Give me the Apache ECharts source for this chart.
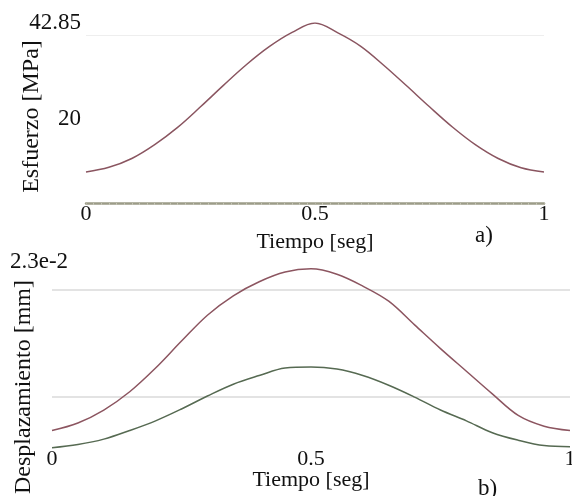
<!DOCTYPE html>
<html><head><meta charset="utf-8">
<script src="https://cdn.jsdelivr.net/npm/echarts@6/dist/echarts.min.js"></script>
<style>html,body{margin:0;padding:0;background:#fff}#c{width:572px;height:496px}</style>
</head><body><div id="c"></div>
<script>
// Time samples [seg]
const tiempo = [0,0.05,0.1,0.15,0.2,0.25,0.3,0.35,0.4,0.45,0.5,0.55,0.6,0.65,0.7,0.75,0.8,0.85,0.9,0.95,1];
// a) Esfuerzo [MPa]
const esfuerzo = [7.4,8.5,10.6,13.9,18.0,22.9,28.0,32.9,37.2,40.6,42.85,40.5,37.3,32.8,27.9,22.9,18.1,13.9,10.6,8.4,7.4];
// b) Desplazamiento [mm]
const despRojo = [0.0069,0.0076,0.0088,0.0105,0.0127,0.0152,0.0176,0.0194,0.0207,0.0216,0.0219,0.0214,0.0203,0.0189,0.0167,0.0145,0.0124,0.0103,0.0083,0.0073,0.0069];
const despVerde = [0.0053,0.0056,0.0061,0.0069,0.0078,0.0089,0.0101,0.0112,0.0120,0.0127,0.0128,0.0126,0.0120,0.0111,0.0100,0.0088,0.0078,0.0067,0.0060,0.0055,0.0054];
// tick labels
const xTickLabels = ['0','0.5','1'];
const yTopLabels = {20:'20', 42.85:'42.85'};
const yBottomLabels = {0.023:'2.3e-2'};
const gridTop = [40];
const gridBottom = [0.01, 0.02];

const FONT = 'Liberation Serif';
const TXT = '#111';

function lookup(map, v){
  for (const k in map){ if (Math.abs(parseFloat(k)-v) < 1e-9) return map[k]; }
  return '';
}
function xFmt(v){
  const i = [0,0.5,1].findIndex(t => Math.abs(t-v)<1e-9);
  return i>=0 ? xTickLabels[i] : '';
}

const chart = echarts.init(document.getElementById('c'), null, {renderer:'canvas'});
chart.setOption({
  animation:false,
  backgroundColor:'#fff',
  title:[
    {text:'a)', left:475, top:224, padding:0, textStyle:{fontFamily:FONT,fontSize:23,fontWeight:'normal',color:TXT}},
    {text:'b)', left:478, top:477, padding:0, textStyle:{fontFamily:FONT,fontSize:23,fontWeight:'normal',color:TXT}}
  ],
  grid:[
    {left:86, right:28, top:23, bottom:293, containLabel:false, outerBoundsMode:'none'},
    {left:52, right:2, top:257, bottom:45, containLabel:false, outerBoundsMode:'none'}
  ],
  xAxis:[
    {gridIndex:0, type:'value', min:0, max:1, interval:0.5,
     name:'Tiempo [seg]', nameLocation:'middle', nameGap:28, nameMoveOverlap:false,
     nameTextStyle:{fontFamily:FONT,fontSize:22,color:TXT},
     axisLine:{show:true, lineStyle:{color:'#9c9c88', width:2.5}},
     axisTick:{show:true, length:2, lineStyle:{color:'#b4b4a4'}},
     minorTick:{show:true, splitNumber:30, length:2, lineStyle:{color:'#c4c4b4'}},
     splitLine:{show:false},
     axisLabel:{fontFamily:FONT,fontSize:22,color:TXT,margin:0,formatter:xFmt}},
    {gridIndex:1, type:'value', min:0, max:1, interval:0.5,
     name:'Tiempo [seg]', nameLocation:'middle', nameGap:18, nameMoveOverlap:false,
     nameTextStyle:{fontFamily:FONT,fontSize:22,color:TXT},
     axisLine:{show:false}, axisTick:{show:false}, splitLine:{show:false},
     axisLabel:{fontFamily:FONT,fontSize:22,color:TXT,margin:-3,formatter:xFmt}}
  ],
  yAxis:[
    {gridIndex:0, type:'value', min:0, max:42.85, interval:20,
     name:'Esfuerzo [MPa]', nameLocation:'middle', nameGap:42, nameRotate:90, nameMoveOverlap:false,
     nameTextStyle:{fontFamily:FONT,fontSize:24,color:TXT,padding:[0,7,0,0]},
     axisLine:{show:false}, axisTick:{show:false}, splitLine:{show:false},
     axisLabel:{fontFamily:FONT,fontSize:23,color:TXT,margin:5,formatter:v=>lookup(yTopLabels,v)}},
    {gridIndex:1, type:'value', min:0.005, max:0.023, interval:0.001,
     name:'Desplazamiento [mm]', nameLocation:'middle', nameGap:16, nameRotate:90, nameMoveOverlap:false,
     nameTextStyle:{fontFamily:FONT,fontSize:24,color:TXT,padding:[0,66,0,0]},
     axisLine:{show:false}, axisTick:{show:false}, splitLine:{show:false},
     axisLabel:{color:TXT,margin:42,align:'left',
       formatter:v=>{const s=lookup(yBottomLabels,v); return s ? '{a|'+s+'}' : '';},
       rich:{a:{fontFamily:FONT,fontSize:23,color:TXT,padding:[10,0,0,0]}}}}
  ],
  series:[
    {type:'line', xAxisIndex:0, yAxisIndex:0, data:[], z:0,
     markLine:{silent:true, symbol:'none', label:{show:false}, z:0,
       lineStyle:{color:'#eeeeee', width:1, type:'solid'},
       data:gridTop.map(v=>({yAxis:v}))}},
    {type:'line', xAxisIndex:1, yAxisIndex:1, data:[], z:0,
     markLine:{silent:true, symbol:'none', label:{show:false}, z:0,
       lineStyle:{color:'#e3e3e3', width:2, type:'solid'},
       data:gridBottom.map(v=>({yAxis:v}))}},
    {type:'line', xAxisIndex:0, yAxisIndex:0, data:tiempo.map((t,i)=>[t,esfuerzo[i]]), z:5,
     smooth:0.35, showSymbol:false, lineStyle:{color:'#8a5560', width:1.5}},
    {type:'line', xAxisIndex:1, yAxisIndex:1, data:tiempo.map((t,i)=>[t,despRojo[i]]), z:5,
     smooth:0.35, showSymbol:false, lineStyle:{color:'#8c5560', width:1.5}},
    {type:'line', xAxisIndex:1, yAxisIndex:1, data:tiempo.map((t,i)=>[t,despVerde[i]]), z:5,
     smooth:0.35, showSymbol:false, lineStyle:{color:'#566a52', width:1.5}}
  ]
});
</script>
</body></html>
